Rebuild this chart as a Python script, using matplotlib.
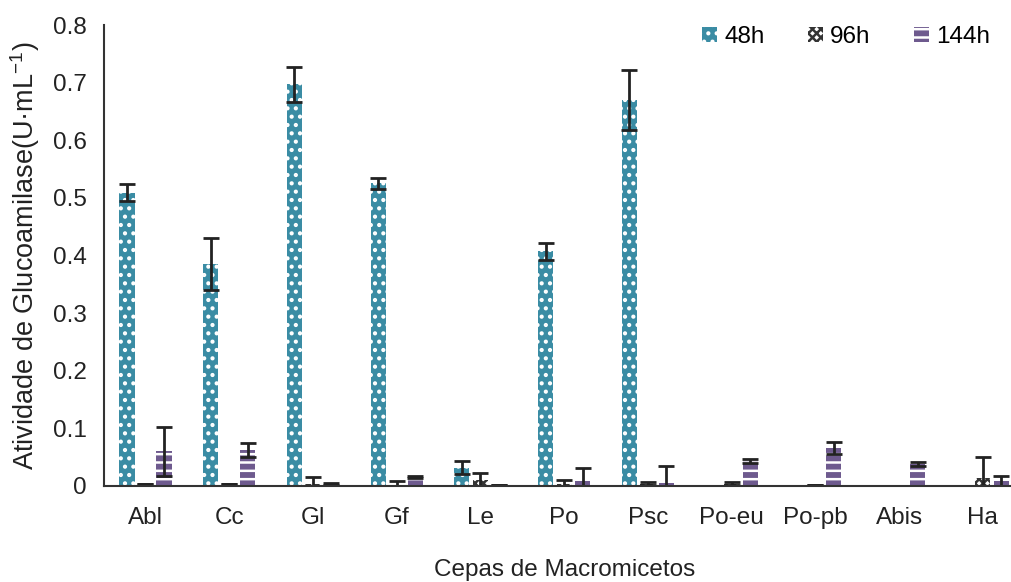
import numpy as np
import matplotlib.pyplot as plt

plt.rcParams['font.family'] = ['Liberation Sans', 'DejaVu Sans']
plt.rcParams['mathtext.fontset'] = 'custom'
plt.rcParams['mathtext.rm'] = 'Liberation Sans'
plt.rcParams['mathtext.it'] = 'Liberation Sans'
plt.rcParams['hatch.linewidth'] = 1.8

# dados
cepas = ['Abl', 'Cc', 'Gl', 'Gf', 'Le', 'Po', 'Psc', 'Po-eu', 'Po-pb', 'Abis', 'Ha']
h48 = [0.509, 0.385, 0.697, 0.525, 0.032, 0.407, 0.670, 0.0, 0.0, 0.0, 0.0]
h48_err = [0.015, 0.045, 0.030, 0.010, 0.011, 0.015, 0.052, 0.0, 0.0, 0.0, 0.0]
h96 = [0.003, 0.003, 0.004, 0.001, 0.010, 0.003, 0.004, 0.004, 0.001, 0.0, 0.013]
h96_err = [0.0, 0.0, 0.012, 0.007, 0.012, 0.007, 0.003, 0.003, 0.0, 0.0, 0.038]
h144 = [0.060, 0.062, 0.003, 0.015, 0.002, 0.008, 0.005, 0.043, 0.066, 0.038, 0.008]
h144_err = [0.042, 0.012, 0.002, 0.002, 0.0, 0.024, 0.030, 0.004, 0.011, 0.004, 0.010]

x = np.arange(len(cepas))
w = 0.18
d = 0.221

fig = plt.figure(figsize=(10.11, 5.82), dpi=100)
# o eixo passa da borda direita, como no original
ax = fig.add_axes([0.1025, 0.165, 0.911, 0.792])

ek = dict(ecolor='#222222', elinewidth=2, capsize=6, capthick=2)
ax.bar(x - d, h48, w, yerr=h48_err, color='#3a8ca4', edgecolor='white', linewidth=0,
       hatch='..', label='48h', error_kw=ek)
ax.bar(x, h96, w, yerr=h96_err, color='white', edgecolor='#333333', linewidth=0,
       hatch='xxxx', label='96h', error_kw=ek)
ax.bar(x + d, h144, w, yerr=h144_err, color='#6e5a8e', edgecolor='white', linewidth=0,
       hatch='--', label='144h', error_kw=ek)

ax.set_xlim(-0.5, len(cepas) - 0.5)
ax.set_ylim(0, 0.8)
ax.set_yticks(np.arange(0, 0.81, 0.1))
ax.set_yticklabels(['0'] + ['%.1f' % v for v in np.arange(0.1, 0.81, 0.1)])
ax.set_xticks(x)
ax.set_xticklabels(cepas)
ax.tick_params(axis='both', length=0, labelsize=17.5, colors='#222222')
ax.tick_params(axis='x', pad=15)
ax.tick_params(axis='y', pad=12)

for s in ['top', 'right']:
    ax.spines[s].set_visible(False)
ax.spines['left'].set_linewidth(1.5)
ax.spines['bottom'].set_linewidth(1.5)
ax.spines['left'].set_color('#333333')
ax.spines['bottom'].set_color('#333333')

ax.set_ylabel('Atividade de Glucoamilase(U·mL$^{-1}$)', fontsize=19.5, color='#222222', labelpad=8)
ax.set_xlabel('Cepas de Macromicetos', fontsize=17.5, color='#222222', labelpad=22)

ax.legend(loc='center right', ncol=3, frameon=False, fontsize=17.5, handlelength=0.6,
          handleheight=0.6, handletextpad=0.3, columnspacing=1.8, borderaxespad=0,
          bbox_to_anchor=(1000 / 1011, 1 - 37 / 582), bbox_transform=fig.transFigure)

fig.savefig('out.png', dpi=100)
